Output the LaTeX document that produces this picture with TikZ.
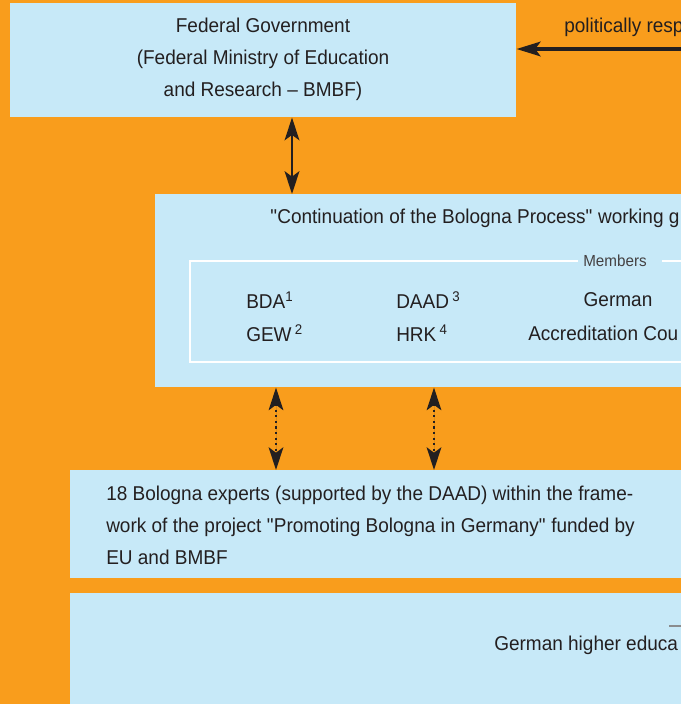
\documentclass[tikz,border=0pt]{standalone}
\usepackage{fontspec}
\setmainfont{Liberation Sans}[FakeStretch=0.95]
\usetikzlibrary{arrows.meta,calc}
\definecolor{bgorange}{HTML}{F99D1C}
\definecolor{lblue}{HTML}{C7E9F8}
\definecolor{ink}{HTML}{231F20}
\definecolor{rulegrey}{HTML}{8A8C8E}
\begin{document}
\begin{tikzpicture}[x=0.75pt,y=-0.75pt,
  box/.style={fill=lblue,draw=none,rectangle,inner sep=0pt},
  txt/.style={text=ink,inner sep=0pt,font=\fontsize{15}{24}\selectfont},
  small/.style={text=ink,inner sep=0pt,font=\fontsize{12}{14}\selectfont},
  tip/.style={-{Stealth[length=18pt,width=11pt,inset=4pt]}},
  dbl/.style={{Stealth[length=17pt,width=11pt,inset=4pt]}-{Stealth[length=17pt,width=11pt,inset=4pt]}},
  solidarrow/.style={dbl,draw=ink,line width=2.2pt},
  dotarrow/.style={dbl,draw=ink,line width=1.6pt,dash pattern=on 1.6pt off 2.6pt}
]
\useasboundingbox (0,0) rectangle (681,704);
\clip (0,0) rectangle (681,704);
\fill[bgorange] (0,0) rectangle (681,704);

% boxes
\node[box,minimum width=379.5pt,minimum height=85.5pt,anchor=north west] (fed) at (10,3) {};
\node[box,minimum width=411.75pt,minimum height=144.75pt,anchor=north west] (wg) at (155,194) {};
\node[box,minimum width=472.5pt,minimum height=81pt,anchor=north west] (exp) at (70,470) {};
\node[box,minimum width=472.5pt,minimum height=90pt,anchor=north west] (hei) at (70,593) {};

% box 1 text
\node[txt,align=center] (fedtxt) at (263,59) {Federal Government\\(Federal Ministry of Education\\and Research -- BMBF)};

% political responsibility arrow
\coordinate (polstart) at (700,49);
\node[txt,anchor=west] (pol) at (564,27) {politically resp};
\draw[tip,draw=ink,fill=ink,line width=2.4pt] (polstart) -- (fed.east |- polstart);

% fed <-> wg
\coordinate (ax1) at (292,0);
\draw[solidarrow,fill=ink] (fed.south -| ax1) -- (wg.north -| ax1);

% working group
\node[txt,anchor=west] (wgtitle) at (270,218) {\textquotedbl Continuation of the Bologna Process\textquotedbl{} working g};
\node[small,text=ink!85] (members) at (615,261) {Members};
\draw[white,line width=1pt] (578,261) -- (190,261) -- (190,362) -- (700,362);
\draw[white,line width=1pt] (662,261) -- (700,261);
\node[txt,anchor=west] (bda) at (246,300) {BDA\textsuperscript{1}};
\node[txt,anchor=west] (gew) at (246,333) {GEW\,\textsuperscript{2}};
\node[txt,anchor=west] (daad) at (396,300) {DAAD\,\textsuperscript{3}};
\node[txt,anchor=west] (hrk) at (396,333) {HRK\,\textsuperscript{4}};
\node[txt] (german) at (618,300) {German};
\node[txt,anchor=west] (accr) at (528,333) {Accreditation Cou};

% dotted arrows
\coordinate (ax2) at (276,0);
\coordinate (ax3) at (434,0);
\draw[dotarrow,fill=ink] (wg.south -| ax2) -- (exp.north -| ax2);
\draw[dotarrow,fill=ink] (wg.south -| ax3) -- (exp.north -| ax3);

% experts
\node[txt,anchor=west,align=left] (exptxt) at (106,525) {18 Bologna experts (supported by the DAAD) within the frame-\\work of the project \textquotedbl Promoting Bologna in Germany\textquotedbl{} funded by\\EU and BMBF};

% higher education
\draw[rulegrey,line width=1pt] (669,626) -- (700,626);
\node[txt,anchor=west] (heitxt) at (494,645) {German higher educa};
\end{tikzpicture}
\end{document}
